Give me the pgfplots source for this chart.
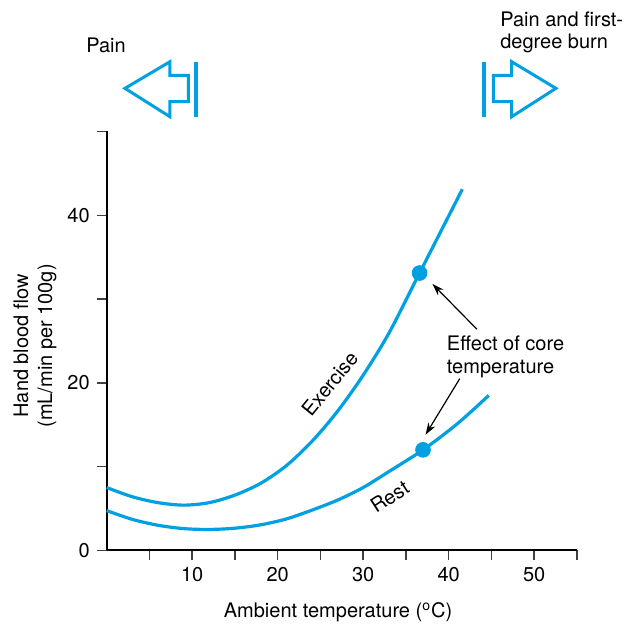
\documentclass[border=0pt]{standalone}
\usepackage{pgfplots}
\pgfplotsset{compat=1.18}
\usepackage{fontspec}
\setmainfont{TeX Gyre Heros}
\usetikzlibrary{arrows.meta}
\definecolor{flow}{RGB}{0,160,225}

\begin{document}
\begin{tikzpicture}[font=\fontsize{10}{12}\selectfont]
\path[use as bounding box] (-53.35pt,-39.3pt) rectangle (259.65pt,275.2pt);
\begin{axis}[
    at={(0,0)}, anchor=south west,
    scale only axis,
    width=235.1pt, height=209.5pt,
    xmin=0, xmax=55, ymin=0, ymax=50,
    axis x line*=bottom, axis y line*=left,
    axis line style={line width=1pt},
    xtick={5,10,...,55},
    xticklabels={,10,,20,,30,,40,,50,},
    ytick={0,10,...,50},
    yticklabels={0,,20,,40,},
    tick align=outside,
    major tick length=5pt,
    tick style={black!75, line width=0.7pt},
    /pgf/number format/assume math mode=true,
    xlabel={Ambient temperature (\textsuperscript{o}C)},
    xlabel style={at={(axis description cs:0.492,-0.147)}, anchor=center},
    ylabel={Hand blood flow\\(mL/min per 100g)},
    ylabel style={at={(axis description cs:-0.1525,0.488)}, anchor=center, align=center},
    clip=false,
]
% exercise
\addplot[flow, line width=1.6pt, smooth] coordinates {
  (0,7.5) (3,6.4) (6,5.7) (9,5.4) (12,5.7) (15,6.6) (18,8.0) (21,10.1)
  (24,13.0) (27,16.6) (30,20.9) (33,25.9) (36,31.9) (39,37.9) (41.6,43.1)};
% rest
\addplot[flow, line width=1.6pt, smooth] coordinates {
  (0,4.75) (3,3.7) (6,3.0) (9,2.6) (12,2.5) (15,2.65) (18,3.05) (21,3.75)
  (24,4.8) (27,6.0) (30,7.5) (33,9.4) (37,12.0) (41,15.1) (44.7,18.5)};
\addplot[only marks, mark=*, mark size=3.7pt, flow] coordinates {(36.6,33.1) (37.0,12.0)};

\node[rotate=51] at (axis cs:26.1,19.9) {Exercise};
\node[rotate=33] at (axis cs:33.1,6.4) {Rest};
\node[anchor=west, align=left, inner sep=0pt, font=\fontsize{10}{11.7}\selectfont]
  at (axis cs:39.75,23.1) {Effect of core\\temperature};
\draw[-{Stealth[length=6pt,width=4pt]}, line width=0.6pt] (axis cs:43.3,26.4) -- (axis cs:38.1,31.8);
\draw[-{Stealth[length=6pt,width=4pt]}, line width=0.6pt] (axis cs:41.3,20.5) -- (axis cs:37.3,13.8);

% side arrows
\node at (axis cs:-0.08,60.3) {Pain};
\draw[flow, line width=1.5pt, line join=miter]
  (axis cs:2.14,55.14) -- (axis cs:7.40,58.32) -- (axis cs:7.40,56.7) -- (axis cs:9.54,56.7)
  -- (axis cs:9.54,53.54) -- (axis cs:7.40,53.54) -- (axis cs:7.40,51.75) -- cycle;
\draw[flow, line width=2pt] (axis cs:10.44,51.75) -- (axis cs:10.44,58.32);
\node[anchor=west, align=left, inner sep=0pt, font=\fontsize{10}{10.85}\selectfont]
  at (axis cs:46.0,61.8) {Pain and first-\\degree burn};
\draw[flow, line width=2pt] (axis cs:44.13,51.75) -- (axis cs:44.13,58.32);
\draw[flow, line width=1.5pt, line join=miter]
  (axis cs:45.22,56.7) -- (axis cs:47.37,56.7) -- (axis cs:47.37,58.32) -- (axis cs:52.55,55.14)
  -- (axis cs:47.37,51.75) -- (axis cs:47.37,53.54) -- (axis cs:45.22,53.54) -- cycle;
\end{axis}
\end{tikzpicture}
\end{document}
